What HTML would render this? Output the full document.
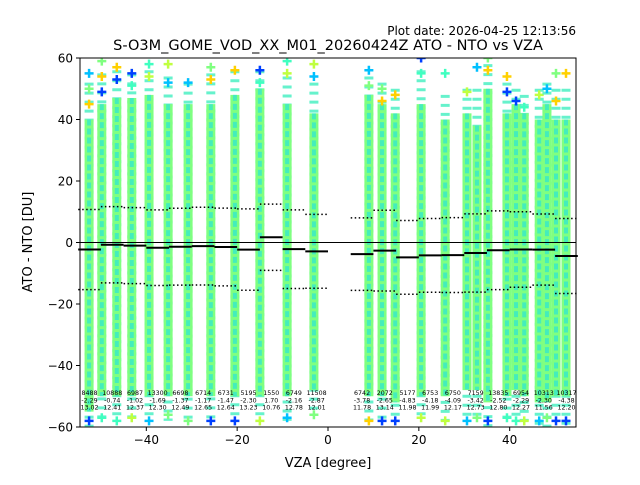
<!DOCTYPE html>
<html><head><meta charset="utf-8"><style>
body{margin:0;background:#fff;font-family:"Liberation Sans","DejaVu Sans",sans-serif}
svg text{font-family:"DejaVu Sans","Liberation Sans",sans-serif}
</style></head><body>
<svg id="chart" width="640" height="480" viewBox="0 0 640 480" xmlns="http://www.w3.org/2000/svg">
<rect width="640" height="480" fill="#fff"/>
<text x="576" y="35" text-anchor="end" font-size="12">Plot date: 2026-04-25 12:13:56</text>
<text x="328" y="50" text-anchor="middle" font-size="14.5">S-O3M_GOME_VOD_XX_M01_20260424Z ATO - NTO vs VZA</text>
<g id="plot"></g>
<text x="328" y="467" text-anchor="middle" font-size="13">VZA [degree]</text>
<text transform="translate(32,242) rotate(-90)" text-anchor="middle" font-size="13">ATO - NTO [DU]</text>
</svg>
<script>
const colX = [-52.6,-49.8,-46.5,-43.2,-39.4,-35.2,-30.8,-25.8,-20.5,-15.0,-9.0,-3.1,9.0,11.9,14.8,20.5,25.8,30.6,32.8,35.2,39.4,41.4,43.2,46.5,48.2,50.2,52.4];
const colTop = [40,45,47,47,48,45,45,45,48,50,45,42,48,45,42,45,40,42,38,50,42,45,42,40,45,40,40];
const colBot = [-55,-50,-50,-50,-50,-50,-50,-50,-50,-50,-50,-48,-50,-50,-52,-50,-50,-48,-48,-52,-50,-48,-50,-52,-52,-50,-50];
const colSparseTop = [52,55,56,55,56,54,52,55,56,56,54,52,54,52,50,56,48,50,50,58,52,50,48,50,52,50,50];
const colSparseBot = [-60,-58,-58,-58,-58,-58,-58,-58,-58,-58,-58,-56,-58,-58,-58,-58,-58,-58,-58,-60,-58,-58,-58,-60,-60,-58,-60];
const colOut = [[55,50,45,-58],[59,54,49,-57],[57,53,-58],[55,51,-57],[58,54,-58],[58,52,-56],[52,-58],[57,53,-58],[56,-58],[56,52,-58],[59,55,-57],[58,54,-56],[56,51,-58],[50,46,-58],[48,-58],[60,55,-57],[55,-58],[49,-58],[57,-57],[60,56,-58],[54,49,-57],[46,-58],[44,-58],[48,-58],[50,-57],[55,46,-58],[55,-58]];
const outCol = ['#00c0ff','#80ff80','#ffd000','#0040ff','#40ffc0','#c0ff40'];
const binCenters = [-52.5,-47.5,-42.5,-37.5,-32.5,-27.5,-22.5,-17.5,-12.5,-7.5,-2.5,7.5,12.5,17.5,22.5,27.5,32.5,37.5,42.5,47.5,52.5];
const binCount = ['8488','10888','6987','13300','6698','6714','6731','5195','1550','6749','11508','6742','2072','5177','6753','6750','7159','13835','6954','10313','10317'];
const binMedian = [-2.29,-0.74,-1.02,-1.69,-1.37,-1.17,-1.47,-2.30,1.70,-2.16,-2.87,-3.78,-2.65,-4.83,-4.18,-4.09,-3.42,-2.52,-2.29,-2.30,-4.38];
const binStd = [13.02,12.41,12.37,12.30,12.49,12.65,12.64,13.23,10.76,12.78,12.01,11.78,13.14,11.98,11.99,12.17,12.73,12.80,12.27,11.56,12.20];
const xTicks = [-40,-20,0,20,40];
const yTicks = [-60,-40,-20,0,20,40,60];

const L=80,R=576,T=58,B=427,xmin=-54.6,xmax=54.6,ymin=-60,ymax=60;
const sx=v=>L+(v-xmin)/(xmax-xmin)*(R-L);
const sy=v=>B-(v-ymin)/(ymax-ymin)*(B-T);
const NS='http://www.w3.org/2000/svg';
const g=document.getElementById('plot');
function mk(tag,attrs,parent){const e=document.createElementNS(NS,tag);for(const k in attrs)e.setAttribute(k,attrs[k]);(parent||g).appendChild(e);return e;}
const clip=mk('clipPath',{id:'pc'});mk('rect',{x:L,y:T,width:R-L,height:B-T},clip);
const data=mk('g',{'clip-path':'url(#pc)'});


colX.forEach((x,i)=>{
  const cx=sx(x);
  const sp=mk('line',{x1:cx,x2:cx,y1:sy(colSparseTop[i]),y2:sy(colSparseBot[i]),stroke:'#40f0c0','stroke-width':9,'stroke-dasharray':'3,6',opacity:0.8},data);
  
  
  const r=mk('rect',{x:cx-4.5,y:sy(colTop[i]),width:9,height:sy(colBot[i])-sy(colTop[i]),fill:'#80ff80'},data);
  
  
  const s=mk('line',{x1:cx,x2:cx,y1:sy(colTop[i]),y2:sy(colBot[i]),stroke:'#30e8d0','stroke-width':4,'stroke-dasharray':'6,3',opacity:0.75},data);
  
  
  colOut[i].forEach((v,j)=>{
    const p=mk('path',{d:`M${cx-4.5},${sy(v)}h9M${cx},${sy(v)-4.5}v9`,stroke:outCol[(i+j)%outCol.length],'stroke-width':2.5},data);
    
    
  });
});
const z=mk('line',{x1:L,x2:R,y1:sy(0),y2:sy(0),stroke:'#000','stroke-width':1});


binCenters.forEach((c,i)=>{
  const x1=sx(c-2.5),x2=sx(c+2.5),m=binMedian[i],s=binStd[i];
  const ml=mk('line',{x1,x2,y1:sy(m),y2:sy(m),stroke:'#000','stroke-width':2});
  
  
  [m+s,m-s].forEach(v=>{
    const d=mk('line',{x1,x2,y1:sy(v),y2:sy(v),stroke:'#000','stroke-width':1.5,'stroke-dasharray':'1.5,2.5'});
    
    
  });
  const lines=[binCount[i],binMedian[i].toFixed(2),binStd[i].toFixed(2)];
  lines.forEach((t,k)=>{
    const tx=mk('text',{x:sx(c),y:395+k*7.3,'text-anchor':'middle','font-size':6.3,fill:'#000'});
    tx.textContent=t;
    
    
  });
});
const fr=mk('rect',{x:L,y:T,width:R-L,height:B-T,fill:'none',stroke:'#000','stroke-width':1});


xTicks.forEach(v=>{
  const l=mk('line',{x1:sx(v),x2:sx(v),y1:B,y2:B+4,stroke:'#000'});
  
  
  const t=mk('text',{x:sx(v),y:B+17,'text-anchor':'middle','font-size':12});
  t.textContent=v<0?'\u2212'+(-v):String(v);
  
  
});
yTicks.forEach(v=>{
  const l=mk('line',{x1:L-4,x2:L,y1:sy(v),y2:sy(v),stroke:'#000'});
  
  
  const t=mk('text',{x:L-7,y:sy(v)+4.5,'text-anchor':'end','font-size':12});
  t.textContent=v<0?'\u2212'+(-v):String(v);
  
  
});
</script>
</body></html>
